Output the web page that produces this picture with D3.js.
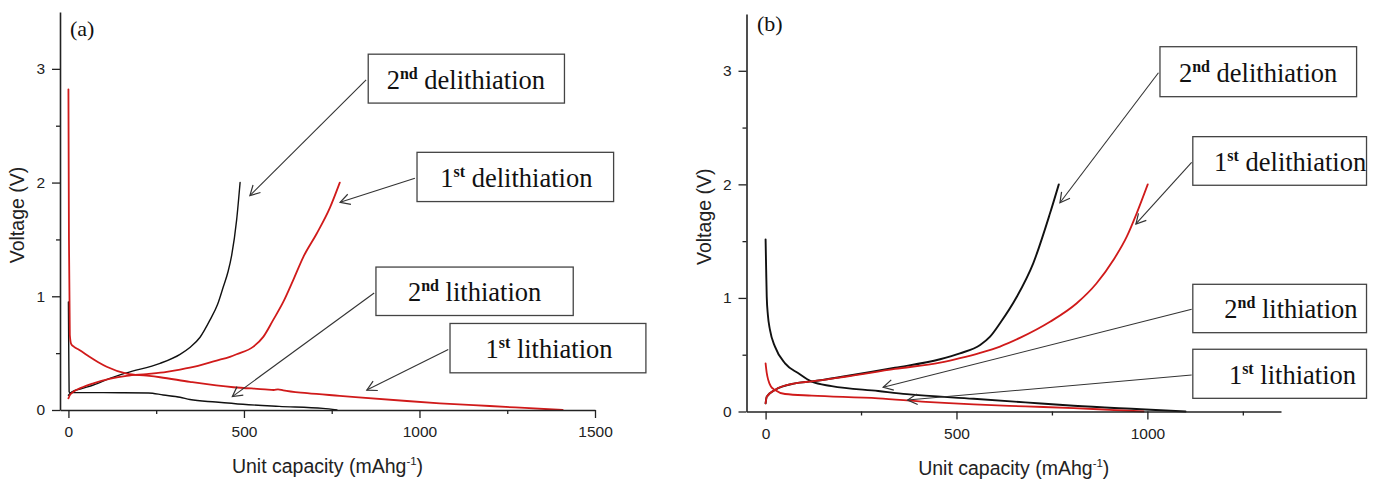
<!DOCTYPE html>
<html>
<head>
<meta charset="utf-8">
<script src="https://cdn.jsdelivr.net/npm/d3@7/dist/d3.min.js"></script>
<style>
  html, body { margin: 0; padding: 0; background: #fff; }
  svg { display: block; }
</style>
</head>
<body>
<svg id="chart" width="1377" height="479"></svg>
<script>
// ---------------- DATA ----------------
// Panel (a): [capacity mAh/g, voltage V]
const aLith1 = [[0,2.82],[1.5,1.5],[4,0.66],[8,0.58],[16,0.555],[30,0.53],[60,0.468],[85,0.42],[109,0.38],[166,0.32],[223,0.302],[261,0.288],[346,0.248],[470,0.2],[560,0.182],[585,0.176],[597,0.182],[612,0.172],[680,0.148],[773,0.125],[964,0.079],[1058,0.059],[1200,0.035],[1300,0.018],[1408,0]];
const aLith2 = [[0,0.95],[1,0.5],[2,0.16],[5,0.153],[60,0.153],[150,0.152],[228,0.15],[270,0.132],[318,0.112],[346,0.092],[420,0.07],[497,0.05],[600,0.032],[725,0.014],[765,0]];
const aDelith1 = [[0,0.103],[5,0.135],[14,0.16],[40,0.2],[71,0.234],[120,0.275],[166,0.3],[223,0.316],[280,0.335],[318,0.355],[346,0.372],[422,0.435],[460,0.468],[479,0.49],[526,0.555],[555,0.643],[583,0.79],[612,0.95],[640,1.14],[669,1.345],[707,1.55],[745,1.78],[773,2.0]];
const aDelith2 = [[0,0.13],[10,0.16],[40,0.19],[71,0.22],[120,0.28],[166,0.327],[261,0.41],[318,0.49],[346,0.55],[375,0.64],[403,0.79],[425,0.93],[441,1.082],[455,1.22],[465,1.36],[479,1.667],[489,2.0]];

// Panel (b)
const bLith1 = [[0,0.424],[3,0.34],[7,0.277],[14,0.22],[24.6,0.19],[51,0.154],[121,0.14],[295,0.116],[420,0.085],[545,0.062],[680,0.045],[807,0.03],[900,0.015],[990,0]];
const bLith2 = [[0,1.516],[1.5,1.25],[3,1.01],[6,0.85],[11.5,0.718],[24.6,0.571],[51,0.424],[86,0.336],[121,0.262],[173,0.224],[295,0.18],[370,0.153],[545,0.112],[680,0.08],[807,0.05],[982,0.02],[1100,0]];
const bDelith1 = [[0,0.072],[3,0.13],[24.6,0.19],[77,0.248],[121,0.265],[208,0.306],[339,0.375],[457,0.43],[509,0.47],[560,0.515],[614,0.572],[666,0.648],[745,0.79],[815,0.953],[867,1.129],[911,1.334],[946,1.539],[972,1.745],[1001,2.0]];
const bDelith2 = [[0,0.072],[3,0.13],[24.6,0.19],[77,0.248],[121,0.265],[208,0.31],[339,0.385],[457,0.46],[509,0.512],[562,0.586],[588,0.659],[614,0.777],[658,1.01],[701,1.305],[745,1.745],[768,2.0]];

// Axis ticks
const xTicksA = [0, 500, 1000, 1500];
const xMinorA = [250, 750, 1250];
const xTicksB = [0, 500, 1000];
const xMinorB = [250, 750, 1250];
const yTicks = [0, 1, 2, 3];
const yMinor = [0.5, 1.5, 2.5];

// Annotations (data coordinates): box [x0,x1,yTop,yBottom], text centre x, arrow from -> to
const annA = [
  {num:"2", sup:"nd", word:"delithiation", box:[854,1413,3.129,2.699], tx:1132, from:[848,2.904], to:[517,1.886]},
  {num:"1", sup:"st", word:"delithiation", box:[993,1553,2.266,1.833], tx:1276, from:[987,2.038], to:[774,1.827]},
  {num:"2", sup:"nd", word:"lithiation",   box:[876,1438,1.257,0.831], tx:1157, from:[871,1.029], to:[467,0.118]},
  {num:"1", sup:"st", word:"lithiation",   box:[1087,1645,0.761,0.327], tx:1369, from:[1082,0.532], to:[850,0.175]}
];
const annB = [
  {num:"2", sup:"nd", word:"delithiation", box:[1033,1548,3.212,2.772], tx:1290, from:[1029,2.983], to:[771,1.838]},
  {num:"1", sup:"st", word:"delithiation", box:[1119,1574,2.420,1.992], tx:1374, from:[1116,2.194], to:[970,1.651]},
  {num:"2", sup:"nd", word:"lithiation",   box:[1119,1574,1.120,0.694], tx:1376, from:[1116,0.900], to:[308,0.213]},
  {num:"1", sup:"st", word:"lithiation",   box:[1119,1574,0.548,0.116], tx:1380, from:[1116,0.321], to:[372,0.101]}
];

// ---------------- DRAW ----------------
const svg = d3.select("#chart");
svg.append("rect").attr("width",1377).attr("height",479).attr("fill","#fff");

const RED = "#d01a1a", BLACK = "#111";
const sansFont = "'Liberation Sans', Arial, sans-serif";
const serifFont = "'Liberation Serif', 'Times New Roman', serif";

const panels = [
  {id:"a", label:"(a)", xDomain:[-24,1500], xRange:[60,595], yRange:[410,12],
   xTicks:xTicksA, xMinor:xMinorA, labelPos:[70,36], blackW:1.4,
   series:[{d:aLith2,c:BLACK},{d:aDelith2,c:BLACK},{d:aLith1,c:RED},{d:aDelith1,c:RED}], ann:annA},
  {id:"b", label:"(b)", xDomain:[-50,1350], xRange:[746.5,1281], yRange:[411.5,14],
   xTicks:xTicksB, xMinor:xMinorB, labelPos:[757,31], blackW:1.9,
   series:[{d:bLith2,c:BLACK},{d:bDelith2,c:BLACK},{d:bLith1,c:RED},{d:bDelith1,c:RED}], ann:annB}
];

panels.forEach(p => {
  const x = d3.scaleLinear().domain(p.xDomain).range(p.xRange);
  const y = d3.scaleLinear().domain([0,3.5]).range(p.yRange);
  const g = svg.append("g");
  const y0 = p.yRange[0], x0 = p.xRange[0];

  // curves
  const line = d3.line().x(d => x(d[0])).y(d => y(d[1])).curve(d3.curveMonotoneX);
  p.series.forEach(s => {
    g.append("path").attr("d", line(s.d)).attr("fill","none")
      .attr("stroke", s.c).attr("stroke-width", s.c === RED ? 1.8 : p.blackW)
      .attr("stroke-linejoin","round").attr("stroke-linecap","round");
  });

  // x axis
  const xAxis = d3.axisBottom(x).tickValues(p.xTicks).tickSize(8).tickSizeOuter(0).tickPadding(8).tickFormat(d3.format("d"));
  const gx = g.append("g").attr("transform", `translate(0,${y0})`).call(xAxis);
  const xMinorAxis = d3.axisBottom(x).tickValues(p.xMinor).tickSize(4).tickSizeOuter(0).tickFormat("");
  const gxm = g.append("g").attr("transform", `translate(0,${y0})`).call(xMinorAxis);
  gxm.select(".domain").remove();

  // y axis
  const yAxis = d3.axisLeft(y).tickValues(yTicks).tickSize(8).tickSizeOuter(0).tickPadding(7).tickFormat(d3.format("d"));
  const gy = g.append("g").attr("transform", `translate(${x0},0)`).call(yAxis);
  const yMinorAxis = d3.axisLeft(y).tickValues(yMinor).tickSize(4).tickSizeOuter(0).tickFormat("");
  const gym = g.append("g").attr("transform", `translate(${x0},0)`).call(yMinorAxis);
  gym.select(".domain").remove();

  [gx, gy, gxm, gym].forEach(a => {
    a.selectAll("path.domain").attr("stroke","#222").attr("stroke-width",1.6);
    a.selectAll(".tick line").attr("stroke","#222").attr("stroke-width",1.3);
    a.selectAll(".tick text").attr("font-family", sansFont).attr("font-size", 15.5).attr("fill","#222");
  });

  // axis titles
  const xt = g.append("text").attr("x",(p.xRange[0]+p.xRange[1])/2).attr("y", y0+63)
    .attr("text-anchor","middle").attr("font-family",sansFont).attr("font-size",19.5).attr("fill","#222");
  xt.append("tspan").text("Unit capacity (mAhg");
  xt.append("tspan").attr("font-size",11.5).attr("dy",-8).text("-1");
  xt.append("tspan").attr("dy",8).text(")");

  g.append("text").attr("transform",`translate(${x0-36},${(p.yRange[0]+p.yRange[1])/2+4}) rotate(-90)`)
    .attr("text-anchor","middle").attr("font-family",sansFont).attr("font-size",19.5).attr("fill","#222")
    .text("Voltage (V)");

  // panel label
  g.append("text").attr("x",p.labelPos[0]).attr("y",p.labelPos[1])
    .attr("font-family",serifFont).attr("font-size",22).attr("fill","#111").text(p.label);

  // annotations
  p.ann.forEach(a => {
    const bx0 = x(a.box[0]), bx1 = x(a.box[1]), by0 = y(a.box[2]), by1 = y(a.box[3]);
    g.append("rect").attr("x",bx0).attr("y",by0).attr("width",bx1-bx0).attr("height",by1-by0)
      .attr("fill","#fff").attr("stroke","#444").attr("stroke-width",1.3);
    const t = g.append("text").attr("x", x(a.tx)).attr("y",(by0+by1)/2+10)
      .attr("text-anchor","middle").attr("font-family",serifFont).attr("font-size",26.5).attr("fill","#111");
    t.append("tspan").text(a.num);
    t.append("tspan").attr("font-size",16).attr("font-weight","bold").attr("dy",-10).text(a.sup);
    t.append("tspan").attr("dy",10).text(" " + a.word);

    const fx = x(a.from[0]), fy = y(a.from[1]), tx = x(a.to[0]), ty = y(a.to[1]);
    g.append("line").attr("x1",fx).attr("y1",fy).attr("x2",tx).attr("y2",ty)
      .attr("stroke","#333").attr("stroke-width",1.1);
    const ang = Math.atan2(ty-fy, tx-fx), L = 11, spread = 0.5;
    const head = d3.path();
    head.moveTo(tx - L*Math.cos(ang-spread), ty - L*Math.sin(ang-spread));
    head.lineTo(tx, ty);
    head.lineTo(tx - L*Math.cos(ang+spread), ty - L*Math.sin(ang+spread));
    g.append("path").attr("d", head.toString()).attr("fill","none")
      .attr("stroke","#333").attr("stroke-width",1.2);
  });
});
</script>
</body>
</html>
